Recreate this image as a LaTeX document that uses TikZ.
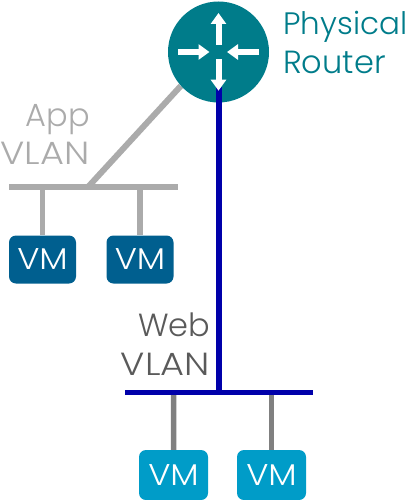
\documentclass[tikz,border=0pt]{standalone}
\usepackage{fontspec}
\setmainfont{Poppins}[UprightFont=* Light]
\usetikzlibrary{arrows.meta,backgrounds}
\definecolor{routerc}{HTML}{007C8A}
\definecolor{appgray}{HTML}{ABABAB}
\definecolor{webgray}{HTML}{5A5A5A}
\definecolor{dropgray}{HTML}{808080}
\definecolor{webblue}{HTML}{0000AA}
\definecolor{appvm}{HTML}{005F8F}
\definecolor{webvm}{HTML}{009CC8}
\newcommand{\widen}[2]{\scalebox{#1}[1]{#2}}
\tikzset{
  x=1pt,y=-1pt,
  vmbox/.style={draw=none,fill=#1,rounded corners=7pt,minimum width=67pt,minimum height=48pt,inner sep=0pt,text=white,font=\fontsize{30}{30}\selectfont},
  lab/.style={inner sep=0pt,font=\fontsize{32}{32}\selectfont,text=#1},
  wire/.style={line width=5.5pt,draw=#1},
  rarrow/.style={draw=white,line width=6pt,-{Triangle[length=11pt,width=15pt]}},
}
\begin{document}
\begin{tikzpicture}
\useasboundingbox (0,0) rectangle (406,500);
% router
\node[circle,fill=routerc,minimum size=101pt,inner sep=0pt] (router) at (218.5,52) {};
% coordinates
\coordinate (rin) at (218.5,87);
\coordinate (ab1) at (9,187);
\coordinate (ab2) at (178,187);
\coordinate (abj) at (88,187);
\coordinate (abd1) at (42.5,187);
\coordinate (abd2) at (140,187);
\coordinate (wb1) at (125,392.7);
\coordinate (wb2) at (313,392.7);
\coordinate (wbj) at (218.5,395);
\coordinate (wbd1) at (173.7,392.7);
\coordinate (wbd2) at (271.5,392.7);
% VMs
\node[vmbox=appvm] (vm1) at (42.5,259.5) {\widen{1.12}{VM}};
\node[vmbox=appvm] (vm2) at (140,259.5) {\widen{1.12}{VM}};
\node[vmbox=webvm,minimum width=69pt,minimum height=50pt] (vm3) at (173.5,475) {\widen{1.12}{VM}};
\node[vmbox=webvm,minimum width=69pt,minimum height=50pt] (vm4) at (271.5,475) {\widen{1.12}{VM}};
% wires
\begin{scope}[on background layer]
\draw[wire=appgray,line width=6pt] (abj) -- (router.222);
\end{scope}
\draw[wire=appgray] (ab1) -- (ab2);
\draw[wire=appgray] (abd1) -- (vm1.north);
\draw[wire=appgray] (abd2) -- (vm2.north);
\draw[wire=dropgray] (wbd1) -- (vm3.north);
\draw[wire=dropgray] (wbd2) -- (vm4.north);
\draw[wire=webblue] (wb1) -- (wb2);
\draw[wire=webblue,line width=6pt] (rin) -- (wbj);
% router arrows
\coordinate (upa) at (218.5,44.7); \coordinate (upb) at (218.5,13);
\coordinate (dna) at (218.5,59.5); \coordinate (dnb) at (218.5,90.7);
\coordinate (lfa) at (178,52); \coordinate (lfb) at (209.5,52);
\coordinate (rta) at (259,52); \coordinate (rtb) at (227,52);
\draw[rarrow] (upa) -- (upb);
\draw[rarrow] (dna) -- (dnb);
\draw[rarrow] (lfa) -- (lfb);
\draw[rarrow] (rta) -- (rtb);
% labels
\node[lab=routerc,anchor=base west,font=\fontsize{31}{31}\selectfont] (t1) at (283,35) {Physical};
\node[lab=routerc,anchor=base west] (t2) at (283,74) {Router};
\node[lab=appgray,anchor=base east] (t3) at (90,126.5) {App};
\node[lab=appgray,anchor=base east] (t4) at (89.5,164.5) {\widen{1.15}{VLAN}};
\node[lab=webgray,anchor=base east] (t5) at (210.5,336) {Web};
\node[lab=webgray,anchor=base east] (t6) at (210,375) {\widen{1.15}{VLAN}};
\end{tikzpicture}
\end{document}
